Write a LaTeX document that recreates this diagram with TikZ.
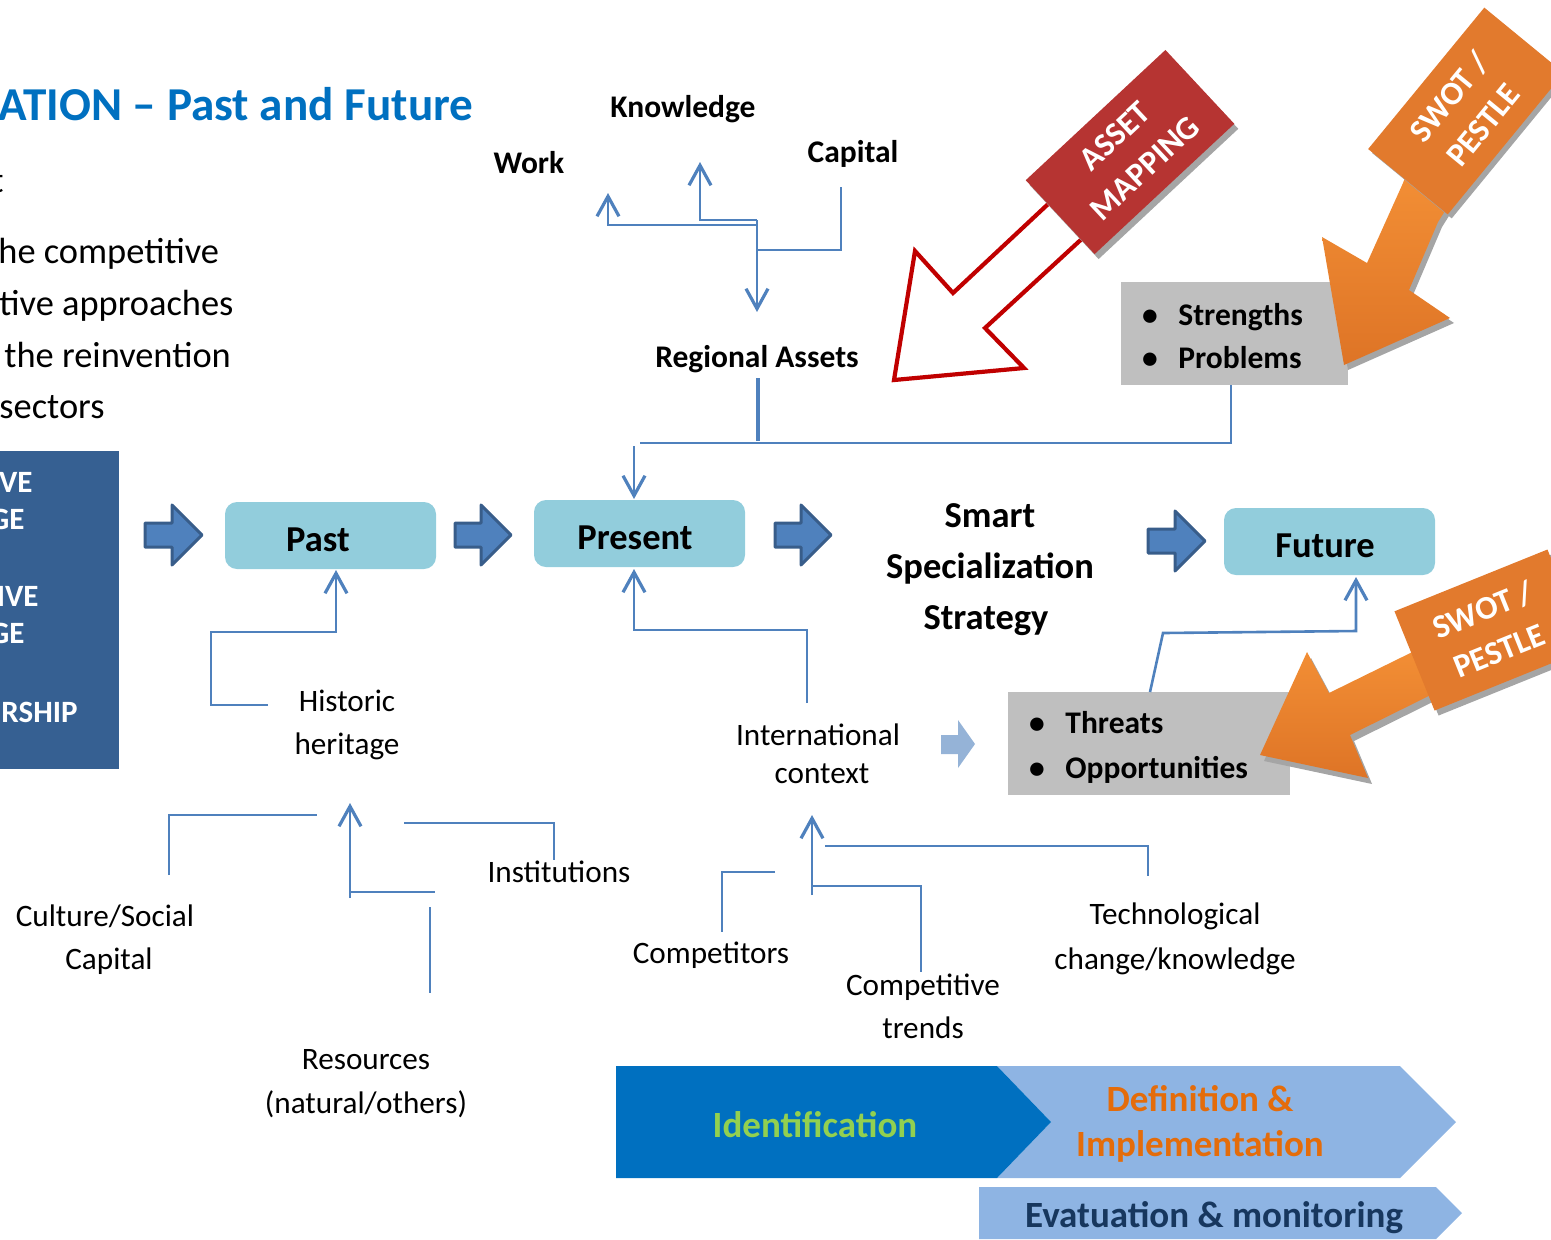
\documentclass[tikz,border=0pt]{standalone}
\usepackage{fontspec}
\setmainfont{Carlito}
\usetikzlibrary{arrows.meta,calc}
\definecolor{conn}{RGB}{79,129,189}
\definecolor{blkfill}{RGB}{79,129,189}
\definecolor{blkdraw}{RGB}{56,93,138}
\definecolor{boxblue}{RGB}{146,205,220}
\definecolor{boxgray}{RGB}{191,191,191}
\definecolor{leftblue}{RGB}{54,96,146}
\definecolor{titleblue}{RGB}{0,112,192}
\definecolor{amred}{RGB}{192,0,0}
\definecolor{amfill}{RGB}{182,52,50}
\definecolor{orA}{RGB}{245,146,55}
\definecolor{orB}{RGB}{222,116,38}
\definecolor{orbox}{RGB}{226,122,45}
\definecolor{idblue}{RGB}{0,112,192}
\definecolor{defblue}{RGB}{142,180,227}
\definecolor{idgreen}{RGB}{146,208,80}
\definecolor{deforange}{RGB}{228,108,10}
\definecolor{evnavy}{RGB}{23,55,94}
\definecolor{lightarrow}{RGB}{149,179,215}
\definecolor{shadowgray}{RGB}{165,165,165}
\tikzset{
  cline/.style={draw=conn, line width=1.3pt},
  >={Straight Barb[length=10pt,width=11pt,line width=1.6pt]},
  reg/.style={font=\fontsize{15.6}{18}\selectfont, inner sep=0pt, anchor=base},
  bld/.style={font=\bfseries\fontsize{15.75}{18}\selectfont, inner sep=0pt, anchor=base},
  lft/.style={font=\bfseries\fontsize{15.5}{18}\selectfont, text=white, inner sep=0pt, anchor=base east},
  big/.style={font=\bfseries\fontsize{18.25}{22}\selectfont, inner sep=0pt, anchor=base},
  body/.style={font=\fontsize{18.2}{21}\selectfont, inner sep=0pt, anchor=base west},
  rbox/.style={fill=boxblue, rounded corners=6pt, minimum width=105.5pt, minimum height=33.5pt, inner sep=0pt},
  gbox/.style={fill=boxgray, inner sep=0pt},
  blk/.style={fill=blkfill, draw=blkdraw, line width=1.5pt, line join=round},
  bot/.style={font=\bfseries\fontsize{18.5}{22}\selectfont, inner sep=0pt, anchor=base},
  tag/.style={font=\bfseries\fontsize{16.5}{22}\selectfont, text=white, align=center, inner sep=0pt},
}
\newcommand\blkarrow[3]{\draw[blk] (#1,#3-12) -- (#2-30,#3-12) -- (#2-30,#3-30) -- (#2,#3) -- (#2-30,#3+30) -- (#2-30,#3+12) -- (#1,#3+12) -- cycle;}
\begin{document}
\begin{tikzpicture}[x=0.5pt,y=-0.5pt]
\useasboundingbox (0,0) rectangle (1551,1239);
\clip (0,0) rectangle (1551,1239);

% title and body text (cut at the left edge)
\node[font=\bfseries\fontsize{23.6}{28}\selectfont, text=titleblue, inner sep=0pt, anchor=base west] (title) at (-2,120) {ATION – Past and Future};
\node[body, anchor=base east] (frag) at (4,192) {t};
\node[body] (b1) at (-2,263) {he competitive};
\node[body] (b2) at (-1,315) {tive approaches};
\node[body] (b3) at (4,367) {the reinvention};
\node[body] (b4) at (-1,418) {sectors};

% left blue box
\node[fill=leftblue, minimum width=64pt, minimum height=159pt, inner sep=0pt] (lbox) at (55,610) {};
\node[lft] (l1) at (33,492) {VE};
\node[lft] (l2) at (25,529) {GE};
\node[lft] (l3) at (39,606) {IVE};
\node[lft] (l4) at (25,643) {GE};
\node[lft] (l5) at (78,722) {RSHIP};

% block arrows
\blkarrow{145}{202}{535}
\blkarrow{455}{511}{535}
\blkarrow{775}{831}{535}
\blkarrow{1148}{1205}{541}

% rounded boxes
\node[rbox] (past) at (330.5,535.5) {};
\node[rbox] (pres) at (639.5,533.5) {};
\node[rbox] (fut) at (1329.5,541.5) {};
\node[big] (pastt) at (318,551) {Past};
\node[big] (prest) at (635,549) {Present};
\node[big] (futt) at (1325,557) {Future};

% smart specialization
\node[big] (s1) at (990,527) {Smart};
\node[big] (s2) at (990,578) {Specialization};
\node[big] (s3) at (986,629) {Strategy};

% regional assets
\node[bld] (know) at (683,117) {Knowledge};
\node[bld] (work) at (529,173) {Work};
\node[bld] (cap) at (853,162) {Capital};
\node[bld] (ra) at (757,367) {Regional Assets};
\coordinate (work-a) at (608,193);
\coordinate (know-a) at (700,162);
\coordinate (cap-e) at (841,187);
\coordinate (jw) at (757,225);
\coordinate (jk) at (757,220);
\coordinate (jc) at (758,250);
\coordinate (ra-a) at (757,312);
\draw[cline,<-] (work-a) |- (jw);
\draw[cline,<-] (know-a) |- (jk);
\draw[cline,->] (jk) -- (ra-a);
\draw[cline] (cap-e) |- (jc);
\coordinate (ra-b) at (758,378);
\coordinate (hub) at (758,441);
\draw[cline, line width=2pt] (ra-b) -- (hub);
\coordinate (hl) at (640,443);
\coordinate (sp-b) at (1231,385);
\draw[cline] (hl) -| (sp-b);
\coordinate (pr-in) at (634,446);
\coordinate (pr-top) at (634,499);
\draw[cline,->] (pr-in) -- (pr-top);

% strengths box
\node[gbox, minimum width=113.5pt, minimum height=51.5pt] (sp) at (1234.5,333.5) {};
\node[bld] (spb1) at (1150,325) {•};
\node[bld, anchor=base west] (sp1) at (1178,325) {Strengths};
\node[bld] (spb2) at (1150,368) {•};
\node[bld, anchor=base west] (sp2) at (1178,368) {Problems};

% asset mapping arrow
\filldraw[fill=white, draw=amred, line width=2.1pt, line join=miter] (894,380) -- (915,251) -- (953,293) -- (1077,177) -- (1111,212) -- (985,328) -- (1024,368) -- cycle;
\node[fill=shadowgray, rotate=43, minimum width=95.5pt, minimum height=50.5pt, inner sep=0pt] (ams) at (1134,157) {};
\node[fill=amfill, rotate=43, minimum width=95.5pt, minimum height=50.5pt, tag] (am) at (1130,152) {ASSET\\MAPPING};

% SWOT top arrow
\fill[shadowgray, shift={(4,5)}] (1415,150) -- (1403,183) -- (1367,263) -- (1322,237) -- (1344,365) -- (1450,318) -- (1409,290) -- (1438,222) -- (1455,195) -- cycle;
\shade[top color=orA, bottom color=orB] (1415,150) -- (1403,183) -- (1367,263) -- (1322,237) -- (1344,365) -- (1450,318) -- (1409,290) -- (1438,222) -- (1455,195) -- cycle;
\node[fill=shadowgray, rotate=50.6, minimum width=91.5pt, minimum height=51.5pt, inner sep=0pt] (sw1s) at (1470,115) {};
\node[fill=orbox, rotate=50.6, minimum width=91.5pt, minimum height=51.5pt, tag] (sw1) at (1466,111) {SWOT /\\PESTLE};

% threats box
\node[gbox, minimum width=141pt, minimum height=51.5pt] (to) at (1149,743.5) {};
\node[bld] (tob1) at (1037,733) {•};
\node[bld, anchor=base west] (to1) at (1065,733) {Threats};
\node[bld] (tob2) at (1037,778) {•};
\node[bld, anchor=base west] (to2) at (1065,778) {Opportunities};

% SWOT lower arrow
\fill[shadowgray, shift={(4,6)}] (1451,633) -- (1329,693) -- (1307,652) -- (1260,755) -- (1368,778) -- (1350,735) -- (1467,677) -- cycle;
\shade[top color=orA, bottom color=orB] (1451,633) -- (1329,693) -- (1307,652) -- (1260,755) -- (1368,778) -- (1350,735) -- (1467,677) -- cycle;
\node[fill=shadowgray, rotate=22, minimum width=82.5pt, minimum height=53.5pt, inner sep=0pt] (sw2s) at (1495,635) {};
\node[fill=orbox, rotate=22, minimum width=82.5pt, minimum height=53.5pt, tag] (sw2) at (1491,630) {SWOT /\\PESTLE};

% connectors into Past / Present / Future
\coordinate (hh-c) at (268,705);
\coordinate (past-in) at (336,570);
\draw[cline,->] (hh-c) -- (211,705) -- (211,632) -| (past-in);
\coordinate (ic-t) at (807,703);
\coordinate (pres-in) at (634,569);
\draw[cline,->] (ic-t) -- (807,630) -| (pres-in);
\coordinate (th-t) at (1150,692);
\coordinate (fut-in) at (1356,577);
\draw[cline,->] (th-t) -- (1163,633) -- (1356,631) -- (fut-in);

% labels middle
\node[reg] (hh1) at (347,711) {Historic};
\node[reg] (hh2) at (347,754) {heritage};
\node[reg] (ic1) at (818,745) {International};
\node[reg] (ic2) at (822,783) {context};
\fill[lightarrow] (941,735) -- (958,735) -- (958,720) -- (975,744) -- (958,768) -- (958,754) -- (941,754) -- cycle;

% lower labels
\node[reg] (cul1) at (105,926) {Culture/Social};
\node[reg] (cul2) at (109,969) {Capital};
\node[reg] (inst) at (559,882) {Institutions};
\node[reg] (res1) at (366,1069) {Resources};
\node[reg] (res2) at (366,1113) {(natural/others)};
\node[reg] (comp) at (711,963) {Competitors};
\node[reg] (ct1) at (923,995) {Competitive};
\node[reg] (ct2) at (923,1038) {trends};
\node[reg] (tc1) at (1175,924) {Technological};
\node[reg] (tc2) at (1175,969) {change/knowledge};

% lower connectors (heritage)
\coordinate (hh-in) at (350,803);
\coordinate (hh-j) at (350,898);
\draw[cline,->] (hh-j) -- (hh-in);
\coordinate (res-jl) at (350,892);
\coordinate (res-jr) at (435,892);
\draw[cline] (res-jl) -- (res-jr);
\coordinate (res-t) at (430,907);
\coordinate (res-b) at (430,993);
\draw[cline] (res-t) -- (res-b);
\coordinate (cul-t) at (169,875);
\coordinate (cul-e) at (317,815);
\draw[cline] (cul-t) |- (cul-e);
\coordinate (inst-s) at (404,823);
\coordinate (inst-e) at (554,860);
\draw[cline] (inst-s) -| (inst-e);

% lower connectors (international)
\coordinate (ic-in) at (812,815);
\coordinate (ic-j) at (812,895);
\draw[cline,->] (ic-j) -- (ic-in);
\coordinate (ctj) at (812,886);
\coordinate (ct-e) at (921,972);
\draw[cline] (ctj) -| (ct-e);
\coordinate (tc-s) at (825,846);
\coordinate (tc-e) at (1148,876);
\draw[cline] (tc-s) -| (tc-e);
\coordinate (cp-s) at (775,872);
\coordinate (cp-e) at (722,932);
\draw[cline] (cp-s) -| (cp-e);

% bottom chevrons
\fill[defblue] (997,1066) -- (1400,1066) -- (1456,1122) -- (1400,1178) -- (997,1178) -- (1051,1122) -- cycle;
\fill[idblue] (616,1066) -- (997,1066) -- (1051,1122) -- (997,1178) -- (616,1178) -- cycle;
\fill[defblue] (979,1187) -- (1436,1187) -- (1462,1213) -- (1436,1239) -- (979,1239) -- cycle;
\node[bot, text=idgreen] (idt) at (815,1137) {Identification};
\node[bot, text=deforange] (df1) at (1200,1111) {Definition \&};
\node[bot, text=deforange] (df2) at (1200,1156) {Implementation};
\node[bot, text=evnavy] (ev) at (1214,1227) {Evatuation \& monitoring};
\end{tikzpicture}
\end{document}
